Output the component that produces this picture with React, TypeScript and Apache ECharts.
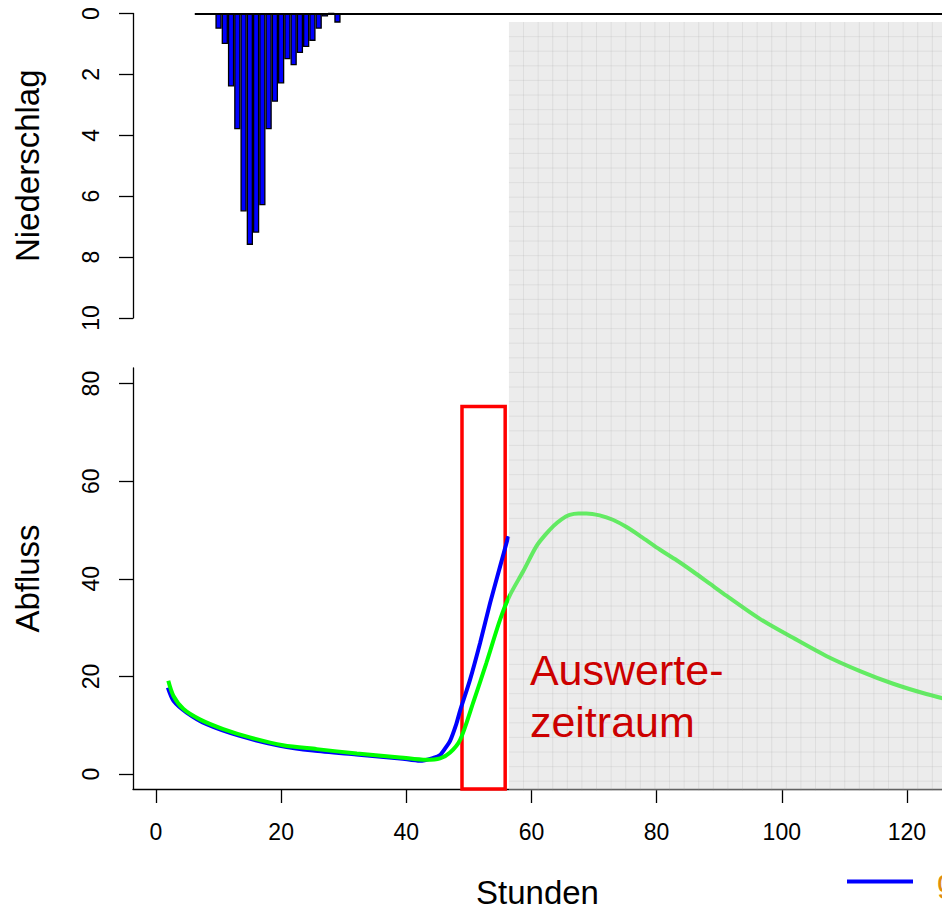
import React, { useEffect, useRef } from "react";
import * as echarts from "echarts";

// ---- data ----
const RAIN_HOURS = [10, 11, 12, 13, 14, 15, 16, 17, 18, 19, 20, 21, 22, 23, 24, 25, 26, 27, 28, 29];
const RAIN_VALUES = [0.5, 1.0, 2.4, 3.8, 6.5, 7.6, 7.2, 6.3, 3.8, 2.9, 2.3, 1.5, 1.7, 1.3, 1.1, 0.9, 0.5, 0.1, 0, 0.3];

const MEAS_T = [1.9, 2.8, 4.9, 8.1, 13.4, 19.8, 25.1, 32.0, 39.0, 42.2, 44.3, 45.4, 46.4, 47.0, 48.0, 48.6, 50.2, 51.8, 53.4, 55.0, 56.3];
const MEAS_Q = [17.7, 15.0, 12.6, 10.2, 7.8, 5.8, 4.8, 4.0, 3.2, 2.7, 3.3, 3.9, 5.6, 6.8, 10.3, 13.0, 19.4, 26.9, 35.1, 42.6, 48.7];

const SIM_T = [1.97, 2.8, 4.4, 7.0, 10.75, 15.0, 20.3, 25.7, 32.1, 39.0, 43.2, 45.4, 47.0, 48.6, 50.7, 52.8, 55.0, 56.5, 58.7, 60.8, 62.2, 63.5, 64.8, 66.1, 67.5, 68.8, 70.9, 73.0, 75.2, 77.8, 80.5, 83.2, 85.8, 88.5, 91.2, 96.5, 101.8, 107.1, 112.5, 117.8, 123.1, 128.0];
const SIM_Q = [19.1, 16.0, 13.3, 11.2, 9.2, 7.5, 5.9, 5.1, 4.2, 3.4, 2.9, 3.2, 4.4, 7.0, 14.7, 22.8, 31.7, 36.5, 41.6, 46.7, 49.0, 50.8, 52.2, 53.1, 53.4, 53.4, 53.0, 52.1, 50.6, 48.4, 46.0, 43.8, 41.5, 39.0, 36.5, 31.8, 27.9, 24.2, 21.1, 18.5, 16.4, 14.8];

const X_TICKS = [0, 20, 40, 60, 80, 100, 120];
const Q_TICKS = [0, 20, 40, 60, 80];
const RAIN_TICKS = [0, 2, 4, 6, 8, 10];

const X_MIN = -3.67;
const X_MAX = 125.6;
const Q_MIN = -3.07;
const Q_MAX = 83.2;

const WINDOW_START = 48.9; // Auswertezeitraum
const WINDOW_END = 55.8;
const WINDOW_TOP = 75.3;
const SHADE_START = 56.4;
const ZERO_LINE_START = 6.2;

const FONT = "'Liberation Sans', Arial, sans-serif";

const axisCommon = {
  axisLine: { show: true, onZero: false, lineStyle: { color: "#000", width: 1.3 } },
  splitLine: { show: false },
  nameLocation: "middle" as const,
  nameTextStyle: { fontSize: 33, color: "#000", fontFamily: FONT },
};

export default function App() {
  const ref = useRef<HTMLDivElement>(null);
  useEffect(() => {
    document.body.style.margin = "0";
    const chart = echarts.init(ref.current!, null, { renderer: "svg" });
    const option: any = {
      animation: false,
      textStyle: { fontFamily: FONT },
      grid: [
        { left: 133, right: 0, top: 13.5, height: 304.5 },
        { left: 133, right: 0, top: 368, bottom: 120 },
      ],
      legend: {
        data: ["gemessen"],
        left: 847,
        top: 866,
        padding: 0,
        icon: "rect",
        itemWidth: 66,
        itemHeight: 4,
        textStyle: { color: "#E08E0B", fontSize: 31, padding: [6, 0, 0, 19] },
      },
      xAxis: [
        { type: "value", gridIndex: 0, min: X_MIN, max: X_MAX, show: false },
        {
          type: "value",
          gridIndex: 1,
          min: X_MIN,
          max: X_MAX,
          ...axisCommon,
          name: "Stunden",
          nameGap: 87,
          axisTick: { show: true, length: 14, customValues: X_TICKS, lineStyle: { color: "#000", width: 1.3 } },
          axisLabel: { customValues: X_TICKS, fontSize: 23, color: "#000", margin: 31 },
        },
      ],
      yAxis: [
        {
          type: "value",
          gridIndex: 0,
          inverse: true,
          min: 0,
          max: 10,
          interval: 2,
          ...axisCommon,
          name: "Niederschlag",
          nameGap: 89,
          axisTick: { show: true, length: 14, customValues: RAIN_TICKS, lineStyle: { color: "#000", width: 1.3 } },
          axisLabel: { customValues: RAIN_TICKS, rotate: 90, fontSize: 23, color: "#000", margin: 31 },
        },
        {
          type: "value",
          gridIndex: 1,
          min: Q_MIN,
          max: Q_MAX,
          ...axisCommon,
          name: "Abfluss",
          nameGap: 89,
          axisTick: { show: true, length: 14, customValues: Q_TICKS, lineStyle: { color: "#000", width: 1.3 } },
          axisLabel: { customValues: Q_TICKS, rotate: 90, fontSize: 23, color: "#000", margin: 31 },
        },
      ],
      series: [
        {
          name: "Niederschlag",
          type: "bar",
          xAxisIndex: 0,
          yAxisIndex: 0,
          barWidth: 6.3,
          data: RAIN_HOURS.map((h, i) => [h, RAIN_VALUES[i]]),
          itemStyle: { color: "#0000FF", borderColor: "#000", borderWidth: 1.3 },
          markLine: {
            silent: true,
            symbol: ["none", "none"],
            label: { show: false },
            lineStyle: { color: "#000", width: 2, type: "solid" },
            data: [[{ coord: [ZERO_LINE_START, 0] }, { coord: [X_MAX, 0] }]],
          },
        },
        {
          name: "gemessen",
          type: "line",
          xAxisIndex: 1,
          yAxisIndex: 1,
          showSymbol: false,
          smooth: 0.25,
          z: 3,
          color: "#0000FF",
          lineStyle: { color: "#0000FF", width: 4 },
          data: MEAS_T.map((t, i) => [t, MEAS_Q[i]]),
          markArea: {
            silent: true,
            itemStyle: { color: "rgba(0,0,0,0)", borderColor: "#FF0000", borderWidth: 3.5 },
            data: [[{ coord: [WINDOW_START, WINDOW_TOP] }, { coord: [WINDOW_END, Q_MIN] }]],
          },
        },
        {
          name: "simuliert",
          type: "line",
          xAxisIndex: 1,
          yAxisIndex: 1,
          showSymbol: false,
          smooth: 0.3,
          z: 4,
          color: "#00FF00",
          lineStyle: { color: "#00FF00", width: 4 },
          data: SIM_T.map((t, i) => [t, SIM_Q[i]]),
        },
      ],
    };
    chart.setOption(option);

    const W = 942;
    const x0 = chart.convertToPixel({ xAxisIndex: 1 }, SHADE_START) as number;
    const yTop = chart.convertToPixel({ yAxisIndex: 0 }, 0.28) as number;
    const yBot = (chart.convertToPixel({ yAxisIndex: 1 }, Q_MIN) as number) + 1.5;
    const step = 14.6;
    const children: any[] = [
      {
        type: "rect",
        silent: true,
        z: 50,
        shape: { x: x0, y: yTop, width: W - x0, height: yBot - yTop },
        style: { fill: "rgba(214,214,214,0.46)" },
      },
    ];
    for (let x = x0 + step; x < W; x += step) {
      children.push({
        type: "line",
        silent: true,
        z: 51,
        shape: { x1: x, y1: yTop, x2: x, y2: yBot },
        style: { stroke: "rgba(150,150,150,0.16)", lineWidth: 1 },
      });
    }
    for (let y = yTop + step; y < yBot; y += step) {
      children.push({
        type: "line",
        silent: true,
        z: 51,
        shape: { x1: x0, y1: y, x2: W, y2: y },
        style: { stroke: "rgba(150,150,150,0.16)", lineWidth: 1 },
      });
    }
    const [tx, ty] = chart.convertToPixel({ gridIndex: 1 }, [59.75, 26.6]) as number[];
    children.push({
      type: "text",
      silent: true,
      z: 60,
      x: tx,
      y: ty,
      style: {
        text: "Auswerte-\nzeitraum",
        fill: "#CC0000",
        fontSize: 43,
        lineHeight: 52,
        fontFamily: FONT,
        align: "left",
        verticalAlign: "top",
      },
    });
    chart.setOption({ graphic: children });

    return () => chart.dispose();
  }, []);
  return <div ref={ref} style={{ width: 942, height: 910, overflow: "hidden" }} />;
}
